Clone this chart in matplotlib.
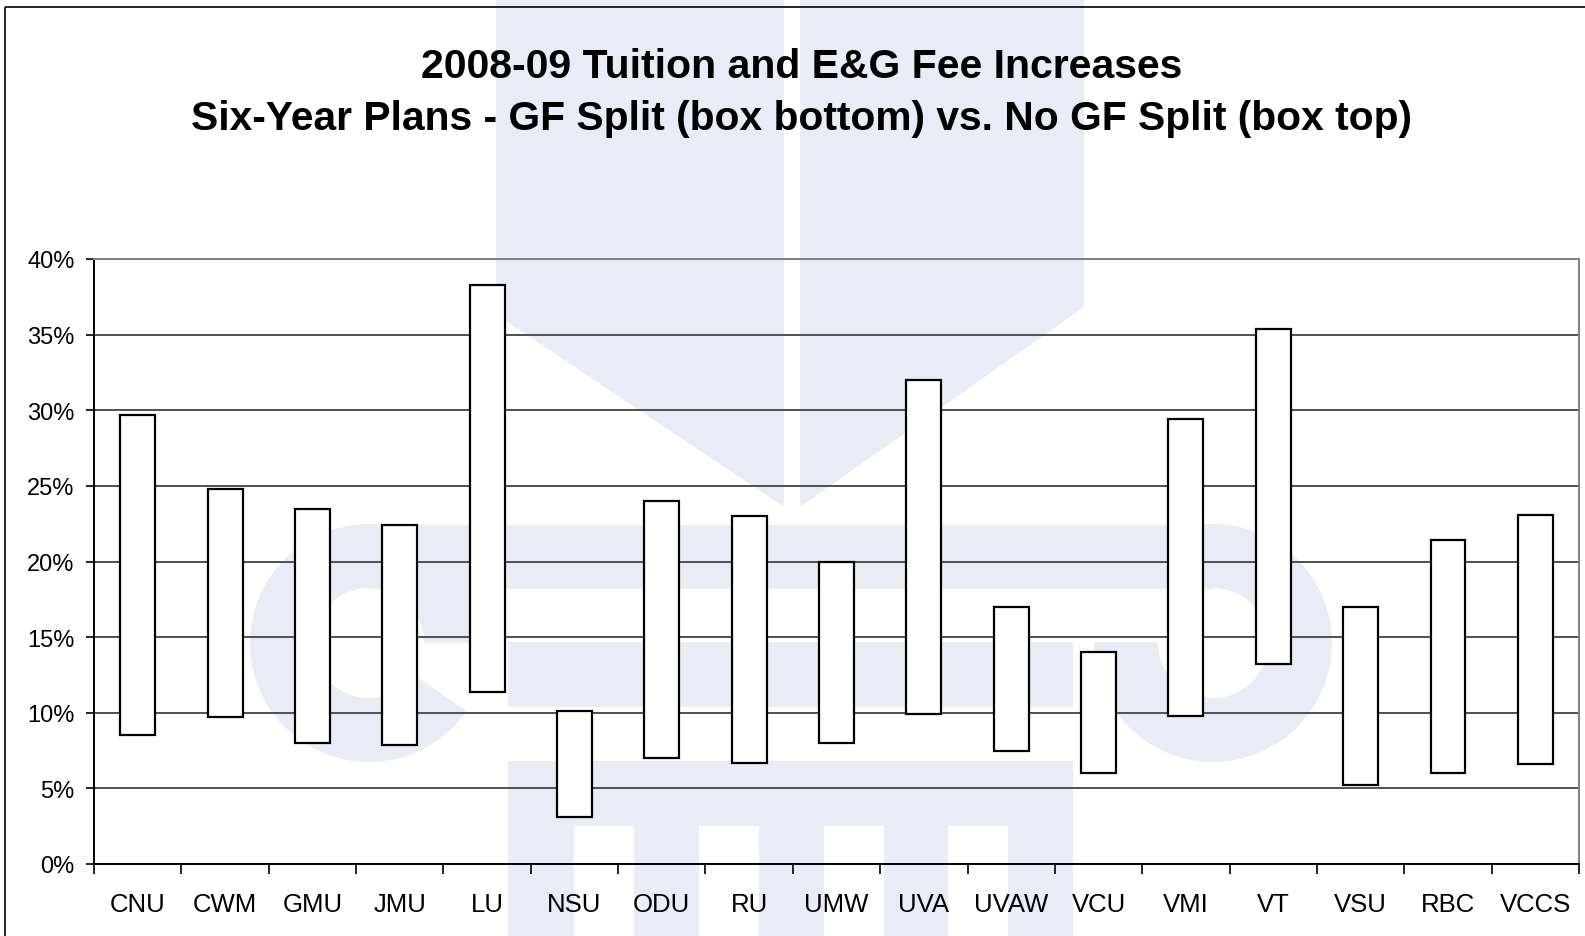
import matplotlib
matplotlib.use('Agg')
import matplotlib.pyplot as plt
from matplotlib.patches import Polygon, Rectangle, Wedge
from matplotlib.transforms import Affine2D
import numpy as np

schools = ['CNU', 'CWM', 'GMU', 'JMU', 'LU', 'NSU', 'ODU', 'RU', 'UMW', 'UVA',
           'UVAW', 'VCU', 'VMI', 'VT', 'VSU', 'RBC', 'VCCS']
# GF split (box bottom) and no GF split (box top), in percent
gf_split = [8.5, 9.7, 8.0, 7.9, 11.4, 3.1, 7.0, 6.7, 8.0, 9.9,
            7.5, 6.0, 9.8, 13.2, 5.2, 6.0, 6.6]
no_gf_split = [29.7, 24.8, 23.5, 22.4, 38.3, 10.1, 24.0, 23.0, 20.0, 32.0,
               17.0, 14.0, 29.4, 35.4, 17.0, 21.4, 23.1]
yticks = [0, 5, 10, 15, 20, 25, 30, 35, 40]

plt.rcParams['font.family'] = ['Liberation Sans', 'DejaVu Sans']

W, H = 1585, 937
fig = plt.figure(figsize=(W / 100., H / 100.), dpi=100)
fig.patch.set_facecolor('white')

# pixel coords, y going down
pix = Affine2D().scale(1 / 100., -1 / 100.).translate(0, H / 100.) + fig.dpi_scale_trans

# faint watermark logo in background
wm = '#e9ecf5'
shapes = [
    Polygon([(496, 0), (784, 0), (784, 508), (496, 315)], closed=True),
    Polygon([(800, 0), (1084, 0), (1084, 308), (800, 508)], closed=True),
    Rectangle((369, 526), 844, 64),
    Wedge((369, 644), 119, 35, 360, width=64),
    Wedge((1213, 644), 119, 0, 360, width=64),
    Rectangle((508, 643), 565, 65),
    Rectangle((508, 762), 565, 200),
]
for s in shapes:
    s.set_transform(pix)
    s.set_facecolor(wm)
    s.set_edgecolor('none')
    s.set_zorder(-2)
    fig.add_artist(s)
# white cut-outs in the logo
cuts = [(1090, 590, 123, 53), (574, 827, 60, 150), (699, 827, 60, 150),
        (824, 827, 60, 150), (948, 827, 60, 150)]
for cx, cy, cw, ch in cuts:
    r = Rectangle((cx, cy), cw, ch, transform=pix, facecolor='white',
                  edgecolor='none', zorder=-1)
    fig.add_artist(r)

# outer border of the chart area
border = Rectangle((5, 8), 1700, 1000, transform=pix, facecolor='none',
                   edgecolor='black', linewidth=1.2, zorder=5)
fig.add_artist(border)

ax = fig.add_axes([94. / W, 1 - 865. / H, (1579. - 94.) / W, (865. - 260.) / H])
ax.patch.set_facecolor('none')

x = np.arange(len(schools))
low = np.array(gf_split)
high = np.array(no_gf_split)
ax.bar(x, high - low, bottom=low, width=0.4, color='white',
       edgecolor='black', linewidth=1.6, zorder=3)

ax.set_xlim(-0.5, len(schools) - 0.5)
ax.set_ylim(0, 40)
ax.set_yticks(yticks)
ax.set_yticklabels(['%d%%' % v for v in yticks], fontsize=17)
ax.yaxis.grid(True, color='#505050', linewidth=1.4, zorder=1)
ax.set_axisbelow(True)

ax.set_xticks(np.arange(len(schools) + 1) - 0.5)
ax.set_xticklabels([])
ax.set_xticks(x, minor=True)
ax.set_xticklabels(schools, minor=True, fontsize=18.5)
ax.tick_params(axis='x', which='major', length=7, width=1.2, direction='out')
ax.tick_params(axis='x', which='minor', length=0, pad=20)
ax.tick_params(axis='y', length=6, width=1.2, pad=8)

ax.spines['left'].set_color('black')
ax.spines['bottom'].set_color('black')
ax.spines['right'].set_color('#808080')
ax.spines['top'].set_color('#808080')
for sp in ax.spines.values():
    sp.set_linewidth(1.4)

fig.text(0.5055, 1 - 67.5 / H, '2008-09 Tuition and E&G Fee Increases',
         ha='center', va='center', fontsize=29.5, fontweight='bold')
fig.text(0.5055, 1 - 119. / H,
         'Six-Year Plans - GF Split (box bottom) vs. No GF Split (box top)',
         ha='center', va='center', fontsize=29.3, fontweight='bold')

fig.savefig('out.png', dpi=100)
